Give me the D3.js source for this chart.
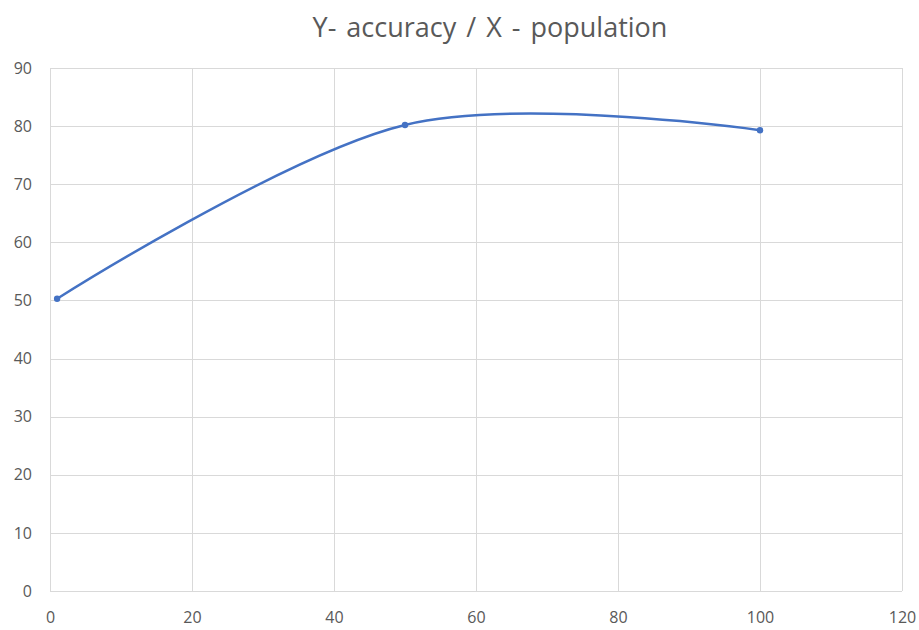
<!DOCTYPE html>
<html>
<head>
<meta charset="utf-8">
<script src="https://cdn.jsdelivr.net/npm/d3@7"></script>
<style>
  html, body { margin: 0; padding: 0; background: #ffffff; }
  svg { display: block; }
</style>
</head>
<body>
<svg id="chart" width="919" height="630"></svg>
<script>
const title = "Y- accuracy / X - population";
const population = [1, 50, 100];
const accuracy = [50.3, 80.2, 79.3];
const xTicks = [0, 20, 40, 60, 80, 100, 120];
const yTicks = [0, 10, 20, 30, 40, 50, 60, 70, 80, 90];

const svg = d3.select("#chart");
const W = 919, H = 630;
const m = { left: 50, right: 17, top: 68, bottom: 39 };

const x = d3.scaleLinear().domain([0, 120]).range([m.left, W - m.right]);
const y = d3.scaleLinear().domain([0, 90]).range([H - m.bottom, m.top]);

const font = "'Open Sans', 'Noto Sans', sans-serif";
const grid = "#d9d9d9";
const txt = "#595959";

// gridlines
svg.append("g").selectAll("line").data(yTicks).join("line")
  .attr("x1", x(0)).attr("x2", x(120))
  .attr("y1", d => Math.round(y(d)) + 0.5).attr("y2", d => Math.round(y(d)) + 0.5)
  .attr("stroke", grid).attr("stroke-width", 1);
svg.append("g").selectAll("line").data(xTicks).join("line")
  .attr("y1", y(0)).attr("y2", y(90))
  .attr("x1", d => Math.round(x(d)) + 0.5).attr("x2", d => Math.round(x(d)) + 0.5)
  .attr("stroke", grid).attr("stroke-width", 1);

// axes labels
const xAxis = svg.append("g").attr("transform", `translate(0,${y(0)})`)
  .call(d3.axisBottom(x).tickValues(xTicks).tickSize(0).tickPadding(21));
const yAxis = svg.append("g").attr("transform", `translate(${x(0)},0)`)
  .call(d3.axisLeft(y).tickValues(yTicks).tickSize(0).tickPadding(18));
[xAxis, yAxis].forEach(g => {
  g.select(".domain").remove();
  g.selectAll("text").attr("fill", txt).style("font-family", font).style("font-size", "16px");
});

// line
const pts = population.map((p, i) => [p, accuracy[i]]);
const line = d3.line().x(d => x(d[0])).y(d => y(d[1])).curve(d3.curveCardinal.tension(0));
svg.append("path").datum(pts)
  .attr("d", line).attr("fill", "none")
  .attr("stroke", "#4472C4").attr("stroke-width", 2.5).attr("stroke-linecap", "round");
svg.append("g").selectAll("circle").data(pts).join("circle")
  .attr("cx", d => x(d[0])).attr("cy", d => y(d[1])).attr("r", 3.2)
  .attr("fill", "#4472C4");

// title
svg.append("text").attr("x", 490).attr("y", 37)
  .attr("text-anchor", "middle").attr("fill", txt)
  .style("font-family", font).style("font-size", "27px")
  .style("word-spacing", "3px")
  .text(title);
</script>
</body>
</html>
